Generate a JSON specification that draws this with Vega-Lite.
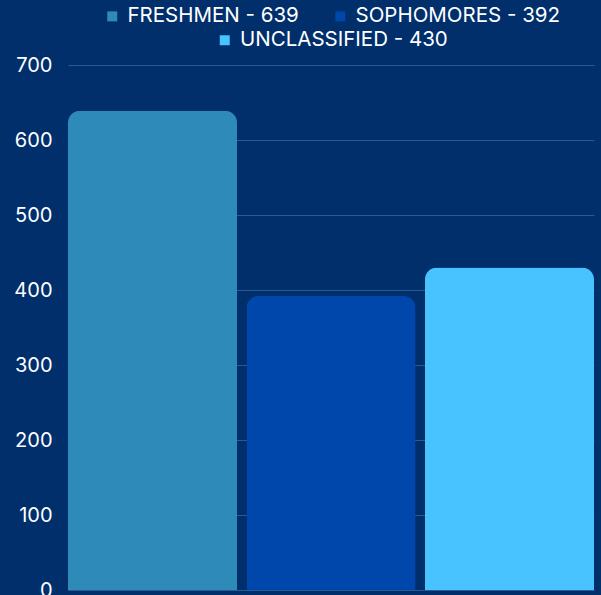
{
  "$schema": "https://vega.github.io/schema/vega-lite/v6.json",
  "width": 526,
  "height": 525,
  "autosize": "none",
  "padding": {"left": 68, "top": 65, "right": 7, "bottom": 5},
  "background": "#002f6c",
  "data": {
    "values": [
      {"category": "FRESHMEN", "value": 639, "label": "FRESHMEN - 639", "row": 1},
      {"category": "SOPHOMORES", "value": 392, "label": "SOPHOMORES - 392", "row": 1},
      {"category": "UNCLASSIFIED", "value": 430, "label": "UNCLASSIFIED - 430", "row": 2}
    ]
  },
  "encoding": {
    "x": {
      "field": "category",
      "type": "nominal",
      "sort": null,
      "scale": {"domain": ["FRESHMEN", "SOPHOMORES", "UNCLASSIFIED"], "paddingInner": 0.053, "paddingOuter": 0},
      "axis": {"labels": false, "ticks": false, "title": null, "domain": true, "domainColor": "#2b5a8f"}
    },
    "y": {
      "field": "value",
      "type": "quantitative",
      "scale": {"domain": [0, 700], "nice": false},
      "axis": {
        "values": [0, 100, 200, 300, 400, 500, 600, 700],
        "title": null,
        "grid": true,
        "gridColor": "#2b5a8f",
        "gridWidth": 1,
        "ticks": false,
        "domain": false,
        "labelColor": "#ffffff",
        "labelFontSize": 20,
        "labelFont": "Inter",
        "labelPadding": 16
      }
    }
  },
  "layer": [
    {
      "transform": [{"filter": "datum.row == 1"}],
      "mark": {"type": "bar", "cornerRadiusTopLeft": 12, "cornerRadiusTopRight": 12},
      "encoding": {
        "color": {
          "field": "label",
          "type": "nominal",
          "scale": {"domain": ["FRESHMEN - 639", "SOPHOMORES - 392"], "range": ["#2e8bb9", "#0047ab"]},
          "legend": {"orient": "top", "title": null, "direction": "horizontal", "columnPadding": 31}
        }
      }
    },
    {
      "transform": [{"filter": "datum.row == 2"}],
      "mark": {"type": "bar", "cornerRadiusTopLeft": 12, "cornerRadiusTopRight": 12},
      "encoding": {
        "color": {
          "field": "label",
          "type": "nominal",
          "scale": {"domain": ["UNCLASSIFIED - 430"], "range": ["#48c3ff"]},
          "legend": {"orient": "top", "title": null, "direction": "horizontal"}
        }
      }
    }
  ],
  "resolve": {"scale": {"color": "independent"}},
  "config": {
    "view": {"stroke": null},
    "legend": {
      "symbolType": "square",
      "symbolSize": 100,
      "symbolStrokeWidth": 0,
      "labelColor": "#ffffff",
      "labelFontSize": 20.5,
      "labelFont": "Inter",
      "labelOffset": 5,
      "labelLimit": 300,
      "offset": 14,
      "layout": {"top": {"direction": "vertical", "anchor": "middle", "center": true, "margin": 3}}
    }
  }
}
